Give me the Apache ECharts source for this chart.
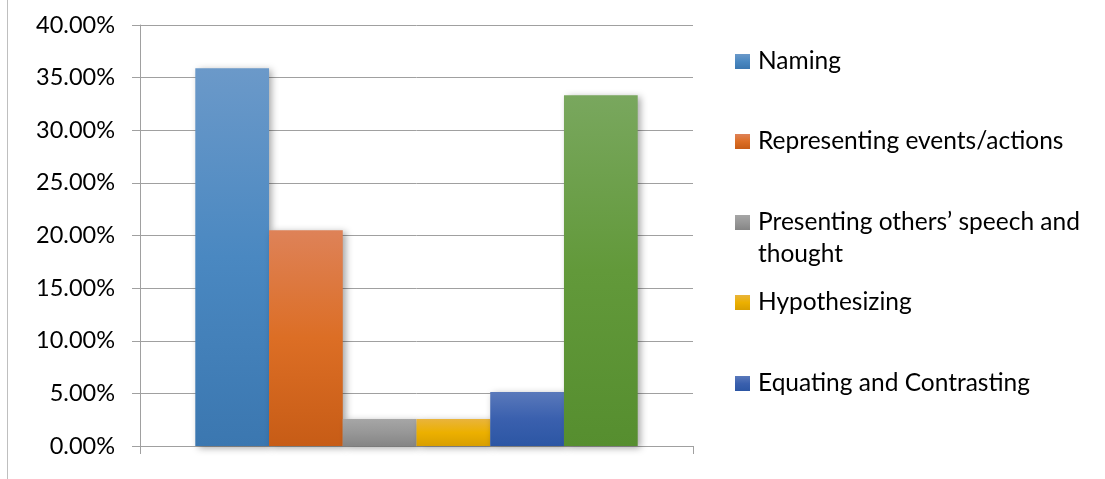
<!DOCTYPE html>
<html>
<head>
<meta charset="utf-8">
<script src="https://cdn.jsdelivr.net/npm/echarts@6/dist/echarts.min.js"></script>
<style>
  html, body { margin: 0; padding: 0; background: #ffffff; }
  #chart { width: 1105px; height: 479px; }
</style>
</head>
<body>
<div id="chart"></div>
<script>
// ---- Data ----
const categories = [''];
const seriesNames = [
  'Naming',
  'Representing events/actions',
  'Presenting others’ speech and thought',
  'Hypothesizing',
  'Equating and Contrasting',
  'Other'
];
const values = [35.90, 20.51, 2.56, 2.56, 5.13, 33.33];
const legendNames = seriesNames.slice(0, 5);
const yMin = 0, yMax = 40, yInterval = 5;

// ---- Styles ----
const gradients = [
  ['#6b99c9', '#4a88c1', '#3b77b0'],
  ['#de8258', '#dc6e25', '#c75c16'],
  ['#a6a6a6', '#979797', '#858585'],
  ['#e9b43c', '#ecb000', '#d99f00'],
  ['#5a79bb', '#3a60ae', '#2c56a4'],
  ['#79a75e', '#62993a', '#568e2f']
];
const FONT = 'Lato, "Open Sans", sans-serif';
const TEXT_COLOR = '#000000';
const GRID_COLOR = '#a0a0a0';

const chart = echarts.init(document.getElementById('chart'), null, { renderer: 'canvas' });

function grad(c) {
  return new echarts.graphic.LinearGradient(0, 0, 0, 1, [
    { offset: 0, color: c[0] },
    { offset: 0.5, color: c[1] },
    { offset: 1, color: c[2] }
  ]);
}

const series = seriesNames.map((name, i) => ({
  name: name,
  type: 'bar',
  barGap: 0,
  barCategoryGap: '20%',
  data: [values[i]],
  itemStyle: {
    color: grad(gradients[i]),
    shadowColor: 'rgba(0,0,0,0.35)',
    shadowBlur: 7,
    shadowOffsetX: 3,
    shadowOffsetY: 2
  },
  emphasis: { disabled: true },
  animation: false
}));

// legend item centers (px) and one legend per entry
const legendCenters = [61.5, 141.5, 222.5, 302.5, 383.5];
const LH = 32;
const legends = legendNames.map((name, i) => {
  const wrapped = name.indexOf('speech') >= 0;
  return {
    data: [name],
    orient: 'vertical',
    left: 735,
    top: wrapped ? legendCenters[i] - LH * 1.5 : legendCenters[i] - LH / 2,
    padding: 0,
    itemWidth: 15,
    itemHeight: 15,
    itemGap: 0,
    selectedMode: false,
    icon: 'rect',
    itemStyle: { shadowBlur: 0, shadowColor: 'transparent' },
    textStyle: {
      fontFamily: FONT,
      fontSize: 24.5,
      color: TEXT_COLOR,
      lineHeight: LH,
      padding: [0, 0, 0, 3]
    },
    formatter: function (n) {
      return n.indexOf('speech') >= 0 ? '\nPresenting others’ speech and\nthought' : n;
    }
  };
});

const option = {
  backgroundColor: '#ffffff',
  animation: false,
  textStyle: { fontFamily: FONT },
  grid: { left: 140, right: 412, top: 25, bottom: 33, containLabel: false },
  legend: legends,
  xAxis: {
    type: 'category',
    data: categories,
    boundaryGap: true,
    axisLine: { show: true, lineStyle: { color: GRID_COLOR, width: 1 } },
    axisTick: { show: true, length: 8, inside: false, lineStyle: { color: GRID_COLOR } },
    axisLabel: { show: false },
    splitLine: { show: false }
  },
  yAxis: {
    type: 'value',
    min: yMin,
    max: yMax,
    interval: yInterval,
    axisLine: { show: true, lineStyle: { color: GRID_COLOR, width: 1 } },
    axisTick: { show: true, length: 8, lineStyle: { color: GRID_COLOR } },
    axisLabel: {
      margin: 25,
      fontFamily: FONT,
      fontSize: 23.5,
      color: TEXT_COLOR,
      formatter: v => v.toFixed(2) + '%'
    },
    splitLine: { show: true, lineStyle: { color: GRID_COLOR, width: 1 } }
  },
  graphic: [{
    type: 'line',
    shape: { x1: 7.5, y1: 0, x2: 7.5, y2: 479 },
    style: { stroke: '#bfbfbf', lineWidth: 1 },
    silent: true
  }],
  series: series
};

chart.setOption(option);
</script>
</body>
</html>
